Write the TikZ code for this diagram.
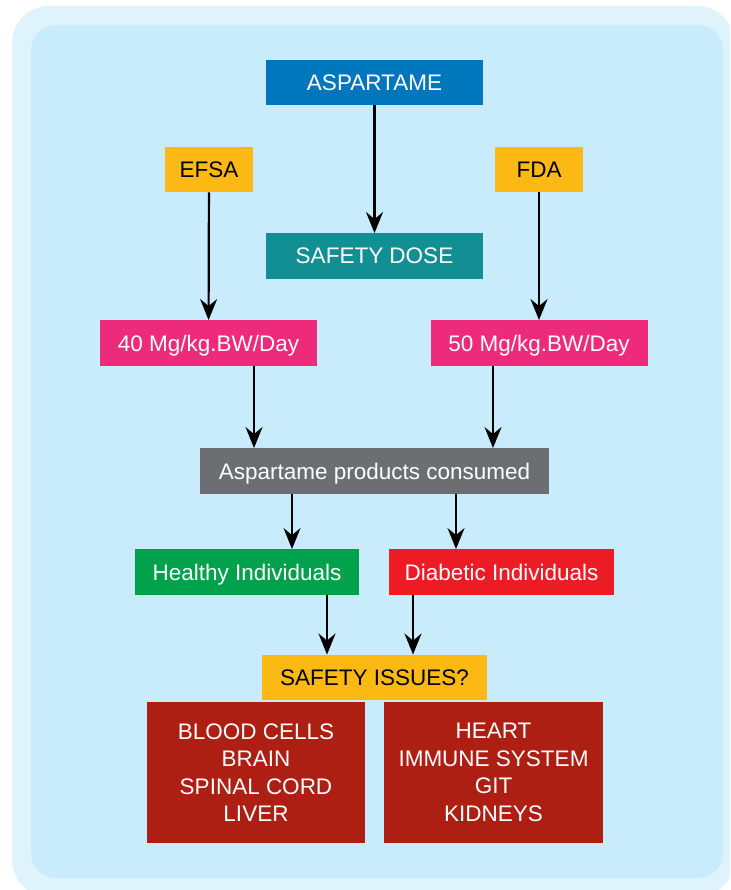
\documentclass[tikz,border=0pt]{standalone}
\usepackage{fontspec}
\setmainfont{Liberation Sans}
\usetikzlibrary{arrows.meta}
\definecolor{outerbg}{RGB}{223,243,253}
\definecolor{innerbg}{RGB}{200,236,252}
\definecolor{aspblue}{RGB}{0,118,189}
\definecolor{dosteal}{RGB}{18,143,147}
\definecolor{agency}{RGB}{253,185,19}
\definecolor{dosepink}{RGB}{238,43,123}
\definecolor{prodgray}{RGB}{109,110,113}
\definecolor{healthgreen}{RGB}{0,161,75}
\definecolor{diabred}{RGB}{237,28,36}
\definecolor{organred}{RGB}{173,31,19}

\begin{document}
\begin{tikzpicture}[x=1pt,y=-1pt,
    box/.style={minimum height=45.5pt,inner sep=0pt,text=white,align=center,
        font=\fontsize{22.5}{27.5}\selectfont},
    onebox/.style={box,text height=16pt,text depth=0pt},
    arr/.style={-{Stealth[length=21pt,width=17pt,inset=7pt]},line width=2.2pt}]
        \clip (0,0) rectangle (730,890);
        % panel background
        \fill[outerbg,rounded corners=37pt] (12,6) rectangle (734,897);
        \fill[innerbg,rounded corners=25pt] (31,25) rectangle (723,878);

        \node[onebox,fill=aspblue,minimum width=217pt] (asp) at (374.5,82.5) {ASPARTAME};
        \node[onebox,fill=agency,text=black,minimum width=88pt] (efsa) at (209,169.5) {EFSA};
        \node[onebox,fill=agency,text=black,minimum width=88pt] (fda) at (539,169.5) {FDA};
        \node[onebox,fill=dosteal,minimum width=217pt] (dose) at (374.5,256) {SAFETY DOSE};
        \node[onebox,fill=dosepink,minimum width=217pt] (p40) at (208.5,343) {40 Mg/kg.BW/Day};
        \node[onebox,fill=dosepink,minimum width=217pt] (p50) at (539,343) {50 Mg/kg.BW/Day};
        \node[onebox,fill=prodgray,minimum width=349pt] (prod) at (374.5,471) {Aspartame products consumed};
        \node[onebox,fill=healthgreen,minimum width=224pt] (healthy) at (247,572) {Healthy Individuals};
        \node[onebox,fill=diabred,minimum width=225pt] (diab) at (501.5,572) {Diabetic Individuals};
        \node[onebox,fill=agency,text=black,minimum width=225pt] (issues) at (374.5,677.5) {SAFETY ISSUES?};
        \node[box,fill=organred,minimum width=218pt,minimum height=141pt] (orgl) at (256,772.5)
            {BLOOD CELLS\\BRAIN\\SPINAL CORD\\LIVER};
        \node[box,fill=organred,minimum width=219pt,minimum height=141pt] (orgr) at (493.5,772.5)
            {HEART\\IMMUNE SYSTEM\\GIT\\KIDNEYS};

        % arrows
        \draw[arr] (asp) -- (dose);
        \draw[arr] (efsa) -- (p40);
        \draw[arr] (fda) -- (p50);
        \draw[arr] ([xshift=45.5pt]p40.south) -- ([xshift=45.5pt]p40.south |- prod.north);
        \draw[arr] ([xshift=-46pt]p50.south) -- ([xshift=-46pt]p50.south |- prod.north);
        \draw[arr] ([xshift=45pt]healthy.north |- prod.south) -- ([xshift=45pt]healthy.north);
        \draw[arr] ([xshift=-45.5pt]diab.north |- prod.south) -- ([xshift=-45.5pt]diab.north);
        \draw[arr] ([xshift=80pt]healthy.south) -- ([xshift=80pt]healthy.south |- issues.north);
        \draw[arr] ([xshift=-88.5pt]diab.south) -- ([xshift=-88.5pt]diab.south |- issues.north);
\end{tikzpicture}
\end{document}
